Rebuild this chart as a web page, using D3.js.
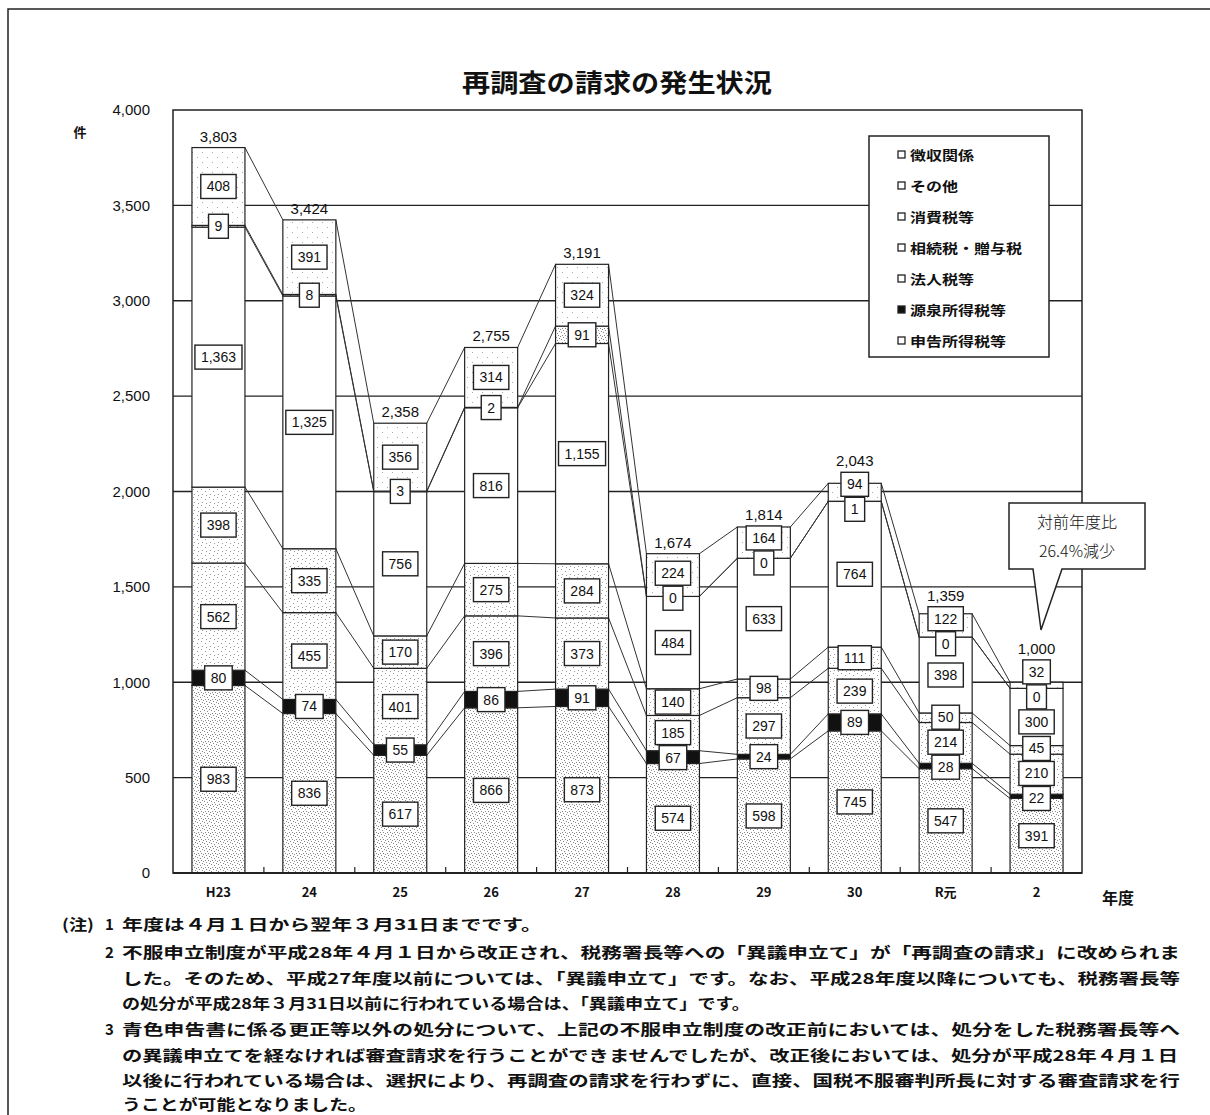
<!DOCTYPE html>
<meta charset="utf-8">
<style>
    body { margin: 0; background: #fff; }
    svg text { font-family: 'Liberation Sans', Arial, sans-serif; fill: #111; }
    svg text.jp { font-family: 'Noto Sans CJK JP', sans-serif; }
</style>
<svg width="1210" height="1115"></svg>
<script src="https://d3js.org/d3.v7.min.js"></script>
<script>

    // categories (fiscal years) and series, bottom of the stack first
    const categories = ["H23", "24", "25", "26", "27", "28", "29", "30", "R元", "2"];
    const seriesNames = ["申告所得税等", "源泉所得税等", "法人税等", "相続税・贈与税", "消費税等", "その他", "徴収関係"];

    const shinkoku = [983, 836, 617, 866, 873, 574, 598, 745, 547, 391];
    const gensen   = [80, 74, 55, 86, 91, 67, 24, 89, 28, 22];
    const hojin    = [562, 455, 401, 396, 373, 185, 297, 239, 214, 210];
    const sozoku   = [398, 335, 170, 275, 284, 140, 98, 111, 50, 45];
    const shohi    = [1363, 1325, 756, 816, 1155, 484, 633, 764, 398, 300];
    const sonota   = [9, 8, 3, 2, 91, 0, 0, 1, 0, 0];
    const choshu   = [408, 391, 356, 314, 324, 224, 164, 94, 122, 32];
    const totals   = [3803, 3424, 2358, 2755, 3191, 1674, 1814, 2043, 1359, 1000];

    const yTicks = [0, 500, 1000, 1500, 2000, 2500, 3000, 3500, 4000];

    const noteLines = [
        "年度は４月１日から翌年３月31日までです。",
        "不服申立制度が平成28年４月１日から改正され、税務署長等への「異議申立て」が「再調査の請求」に改められま",
        "した。そのため、平成27年度以前については、「異議申立て」です。なお、平成28年度以降についても、税務署長等",
        "の処分が平成28年３月31日以前に行われている場合は、「異議申立て」です。",
        "青色申告書に係る更正等以外の処分について、上記の不服申立制度の改正前においては、処分をした税務署長等へ",
        "の異議申立てを経なければ審査請求を行うことができませんでしたが、改正後においては、処分が平成28年４月１日",
        "以後に行われている場合は、選択により、再調査の請求を行わずに、直接、国税不服審判所長に対する審査請求を行",
        "うことが可能となりました。"
    ];
    const noteMarks = ["1", "2", "", "", "3", "", "", ""];

    var svg = d3.select("svg");

    const keys = seriesNames;
    const rows = categories.map(function (c, i) {
        return {
            cat: c,
            "申告所得税等": shinkoku[i],
            "源泉所得税等": gensen[i],
            "法人税等": hojin[i],
            "相続税・贈与税": sozoku[i],
            "消費税等": shohi[i],
            "その他": sonota[i],
            "徴収関係": choshu[i],
            total: totals[i]
        };
    });
    const stacked = d3.stack().keys(keys)(rows);

    const x = d3.scaleBand().domain(categories).range([173, 1082])
        .paddingInner(0.417).paddingOuter(0.2085);
    const y = d3.scaleLinear().domain([0, 4000]).range([873, 110]);
    const bw = x.bandwidth();

    // stipple patterns (fixed dot layout)
    const defs = svg.append("defs");
    function dots(id, size, pts, col) {
        const p = defs.append("pattern").attr("id", id).attr("patternUnits", "userSpaceOnUse")
            .attr("width", size).attr("height", size);
        p.append("rect").attr("width", size).attr("height", size).attr("fill", "#fff");
        pts.forEach(function (d) {
            p.append("rect").attr("x", d[0]).attr("y", d[1]).attr("width", 1).attr("height", 1).attr("fill", col);
        });
    }
    dots("dense", 7, [[0, 0], [3, 1], [6, 2], [1, 3], [4, 4], [2, 6], [5, 6]], "#888");
    dots("light", 8, [[1, 1], [5, 3], [2, 6], [6, 7]], "#999");
    dots("faint", 10, [[2, 2], [7, 7]], "#aaa");
    const fills = {
        "申告所得税等": "url(#dense)",
        "源泉所得税等": "#111",
        "法人税等": "url(#light)",
        "相続税・贈与税": "url(#light)",
        "消費税等": "#fff",
        "その他": "url(#dense)",
        "徴収関係": "url(#faint)"
    };

    // outer frame
    svg.append("path").attr("d", "M8,1115 V9 H1210").attr("fill", "none").attr("stroke", "#222").attr("stroke-width", 1.5);

    // title
    svg.append("text").attr("class", "jp").attr("x", 462).attr("y", 92)
        .attr("textLength", 310).attr("lengthAdjust", "spacingAndGlyphs")
        .style("font-size", "25px").style("font-weight", "700")
        .text("再調査の請求の発生状況");

    // grid
    svg.append("g").selectAll("line").data(yTicks.slice(1, -1)).enter().append("line")
        .attr("x1", 173).attr("x2", 1082)
        .attr("y1", function (d) { return y(d); }).attr("y2", function (d) { return y(d); })
        .attr("stroke", "#222").attr("stroke-width", 1.3);
    svg.append("rect").attr("x", 173).attr("y", 110).attr("width", 1082 - 173).attr("height", 873 - 110)
        .attr("fill", "none").attr("stroke", "#222").attr("stroke-width", 1.5);

    // connecting lines between adjacent bars
    const links = [];
    stacked.forEach(function (s) {
        for (let i = 0; i < categories.length - 1; i++) {
            links.push({ x1: x(categories[i]) + bw, y1: y(s[i][1]), x2: x(categories[i + 1]), y2: y(s[i + 1][1]) });
        }
    });
    svg.append("g").selectAll("line").data(links).enter().append("line")
        .attr("x1", function (d) { return d.x1; }).attr("y1", function (d) { return d.y1; })
        .attr("x2", function (d) { return d.x2; }).attr("y2", function (d) { return d.y2; })
        .attr("stroke", "#333").attr("stroke-width", 1);

    // bars
    const seg = svg.append("g").selectAll("g").data(stacked).enter().append("g")
        .attr("fill", function (d) { return fills[d.key]; });
    seg.selectAll("rect").data(function (d) { return d; }).enter().append("rect")
        .attr("x", function (d) { return x(d.data.cat); })
        .attr("y", function (d) { return y(d[1]); })
        .attr("width", bw)
        .attr("height", function (d) { return y(d[0]) - y(d[1]); })
        .attr("stroke", "#222").attr("stroke-width", 1.2);

    // value boxes, spread so they do not overlap
    const boxH = 24, gap = 1, pitch = boxH + gap;
    function place(items) {
        const clusters = [];
        items.forEach(function (it) {
            clusters.push({ items: [it], top: it.want - boxH / 2 });
            while (clusters.length > 1) {
                const b = clusters[clusters.length - 1], a = clusters[clusters.length - 2];
                if (a.top + a.items.length * pitch <= b.top) break;
                const m = { items: a.items.concat(b.items) };
                m.top = d3.mean(m.items, function (d) { return d.want; }) - (m.items.length * pitch - gap) / 2;
                clusters.splice(-2, 2, m);
            }
        });
        clusters.forEach(function (c) {
            c.items.forEach(function (it, j) { it.y = c.top + j * pitch + boxH / 2; });
        });
    }

    const labelG = svg.append("g");
    categories.forEach(function (c, i) {
        const items = stacked.map(function (s) {
            return { v: s[i].data[s.key], want: (y(s[i][0]) + y(s[i][1])) / 2, k: s.index };
        });
        items.sort(function (a, b) { return a.want - b.want || b.k - a.k; });
        place(items);
        const cx = x(c) + bw / 2;
        items.forEach(function (it) {
            const g = labelG.append("g");
            const r = g.append("rect").attr("fill", "#fff").attr("stroke", "#222").attr("stroke-width", 1.4);
            const t = g.append("text").attr("x", cx).attr("y", it.y + 5).attr("text-anchor", "middle")
                .style("font-size", "14px").text(d3.format(",")(it.v));
            const w = t.node().getComputedTextLength() + 12;
            r.attr("x", cx - w / 2).attr("y", it.y - boxH / 2).attr("width", w).attr("height", boxH);
        });
        const topY = Math.min(y(totals[i]), items[0].y - boxH / 2);
        labelG.append("text").attr("x", cx).attr("y", topY - 6).attr("text-anchor", "middle")
            .style("font-size", "15px").text(d3.format(",")(totals[i]));
    });

    // y axis
    const yAxis = svg.append("g").attr("transform", "translate(158,0)")
        .call(d3.axisLeft(y).tickValues(yTicks).tickFormat(d3.format(",")).tickSize(0).tickPadding(8));
    yAxis.select(".domain").remove();
    yAxis.selectAll("text").style("font-size", "15px").attr("fill", "#111");
    svg.append("text").attr("class", "jp").attr("x", 80).attr("y", 137).attr("text-anchor", "middle")
        .style("font-size", "13px").style("font-weight", "700").text("件");

    // x axis
    svg.append("line").attr("x1", 173).attr("x2", 1082).attr("y1", 873).attr("y2", 873)
        .attr("stroke", "#222").attr("stroke-width", 2.2);
    const xAxis = svg.append("g").attr("transform", "translate(0,873)")
        .call(d3.axisBottom(x).tickSize(0).tickPadding(15));
    xAxis.select(".domain").remove();
    xAxis.selectAll("text").attr("class", "jp").style("font-size", "13px").style("font-weight", "700").attr("fill", "#111");
    svg.append("g").selectAll("line").data(categories.slice(1)).enter().append("line")
        .attr("x1", function (d) { return x(d) - x.step() * x.paddingInner() / 2; })
        .attr("x2", function (d) { return x(d) - x.step() * x.paddingInner() / 2; })
        .attr("y1", 873).attr("y2", 867).attr("stroke", "#222").attr("stroke-width", 1.2);
    svg.append("text").attr("class", "jp").attr("x", 1118).attr("y", 904).attr("text-anchor", "middle")
        .style("font-size", "16px").style("font-weight", "700").text("年度");

    // legend
    const leg = svg.append("g");
    leg.append("rect").attr("x", 869).attr("y", 136).attr("width", 180).attr("height", 221)
        .attr("fill", "#fff").attr("stroke", "#222").attr("stroke-width", 1.5);
    const legItems = seriesNames.slice().reverse();
    legItems.forEach(function (name, j) {
        const ly = 155 + j * 31;
        leg.append("rect").attr("x", 898).attr("y", ly - 4).attr("width", 7).attr("height", 7)
            .attr("fill", name === "源泉所得税等" ? "#111" : "#fff").attr("stroke", "#222").attr("stroke-width", 1.3);
        leg.append("text").attr("class", "jp").attr("x", 910).attr("y", ly + 5)
            .attr("textLength", name.length * 16).attr("lengthAdjust", "spacingAndGlyphs")
            .style("font-size", "13px").style("font-weight", "700").text(name);
    });

    // callout
    svg.append("path").attr("d", "M1009,503 H1145 V569 H1062 L1041,630 L1033,569 H1009 Z")
        .attr("fill", "#fff").attr("stroke", "#222").attr("stroke-width", 1.5);
    svg.append("text").attr("class", "jp").attr("x", 1077).attr("y", 528).attr("text-anchor", "middle")
        .style("font-size", "16px").style("font-weight", "300").attr("fill", "#333").text("対前年度比");
    svg.append("text").attr("class", "jp").attr("x", 1077).attr("y", 557).attr("text-anchor", "middle")
        .style("font-size", "16px").style("font-weight", "300").attr("fill", "#333").text("26.4%減少");

    // notes
    const noteY = [925, 953, 979, 1004, 1030, 1056, 1081, 1105];
    const noteW = [420, 1058, 1058, 628, 1058, 1056, 1058, 245];
    svg.append("text").attr("class", "jp").attr("x", 62).attr("y", noteY[0] + 5)
        .attr("textLength", 32).attr("lengthAdjust", "spacingAndGlyphs")
        .style("font-size", "15px").style("font-weight", "700").text("(注)");
    noteLines.forEach(function (t, j) {
        if (noteMarks[j]) {
            svg.append("text").attr("class", "jp").attr("x", 105).attr("y", noteY[j] + 5)
                .style("font-size", "15px").style("font-weight", "700").text(noteMarks[j]);
        }
        svg.append("text").attr("class", "jp").attr("x", 122).attr("y", noteY[j] + 5)
            .attr("textLength", noteW[j]).attr("lengthAdjust", "spacingAndGlyphs")
            .style("font-size", "15px").style("font-weight", "700").text(t);
    });

</script>
